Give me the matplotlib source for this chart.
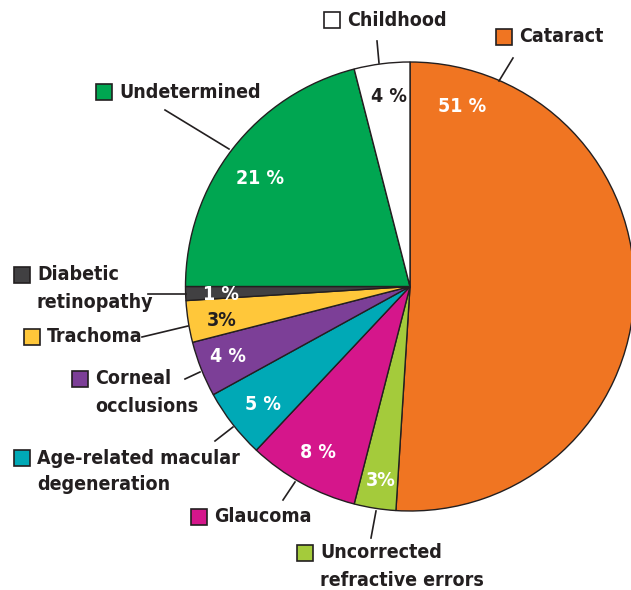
import matplotlib
matplotlib.use("Agg")
import matplotlib.pyplot as plt
from matplotlib.patches import Rectangle

W, H = 631, 590

# data, clockwise from 12 o'clock
causes = ["Cataract", "Uncorrected\nrefractive errors", "Glaucoma",
          "Age-related macular\ndegeneration", "Corneal\nocclusions", "Trachoma",
          "Diabetic\nretinopathy", "Undetermined", "Childhood"]
shares = [51, 3, 8, 5, 4, 3, 1, 21, 4]
pct_text = ["51 %", "3%", "8 %", "5 %", "4 %", "3%", "1 %", "21 %", "4 %"]
colors = ["#F07522", "#A4CB3B", "#D5168B", "#00A9B6", "#7C3F97",
          "#FFC73A", "#414042", "#00A651", "#FFFFFF"]
pct_color = ["white", "white", "white", "white", "white", "#231F20",
             "white", "white", "#231F20"]

# layout in pixel coords (y from top)
pct_pos = [(462, 107), (381, 480), (318, 452), (263, 405), (228, 356),
           (222, 321), (221, 295), (260, 178), (389, 97)]
box_pos = [(496, 29), (297, 545), (191, 509), (14, 450), (72, 371),
           (24, 329), (14, 267), (96, 84), (324, 12)]
leaders = [((513, 58), (499, 81)), ((371, 538), (376, 511)), ((283, 500), (295, 482)),
           ((215, 441), (233, 427)), ((185, 379), (200, 372)), ((142, 337), (188, 326)),
           ((148, 294), (186, 294)), ((165, 110), (229, 149)), ((377, 41), (379, 63))]

ink = "#231F20"
fs = 14
tkw = dict(fontsize=fs, fontweight="bold", family="DejaVu Sans", fontstretch="condensed")


def py(y):
    return H - y


fig = plt.figure(figsize=(W / 100, H / 100), dpi=100)
ax = fig.add_axes([0, 0, 1, 1])

ax.pie(shares, colors=colors, startangle=90, counterclock=False,
       center=(410, py(286.5)), radius=224.5, frame=True,
       wedgeprops=dict(edgecolor=ink, linewidth=1.0))
ax.set_xlim(0, W)
ax.set_ylim(0, H)
ax.set_aspect("equal")
ax.axis("off")

for txt, (x, y), c in zip(pct_text, pct_pos, pct_color):
    ax.text(x, py(y), txt, color=c, ha="center", va="center", **tkw)

for name, col, (bx, by), (p0, p1) in zip(causes, colors, box_pos, leaders):
    ax.add_patch(Rectangle((bx, py(by + 16)), 16, 16, facecolor=col,
                           edgecolor=ink, linewidth=1.2))
    ax.plot([p0[0], p1[0]], [py(p0[1]), py(p1[1])], color=ink, lw=1.2)
    for i, line in enumerate(name.split("\n")):
        ax.text(bx + 23, py(by + 8 + 27 * i), line, color=ink,
                ha="left", va="center", **tkw)

fig.savefig("out.png", dpi=100)
